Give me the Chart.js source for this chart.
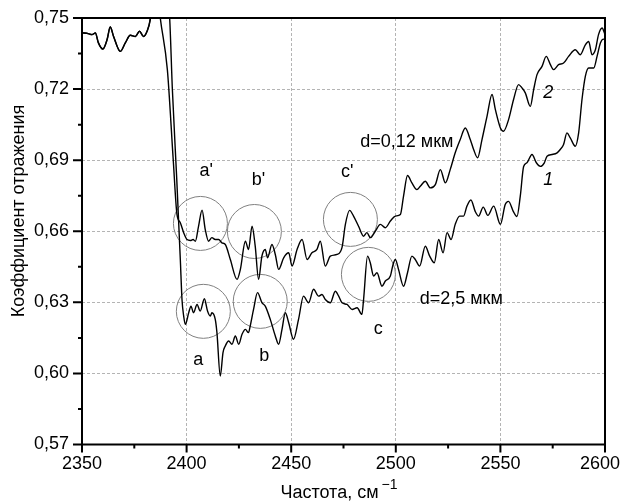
<html>
<script src="https://cdn.jsdelivr.net/npm/chart.js@4.4.0/dist/chart.umd.min.js"></script>
<body style="margin:0;background:#fff;">
<canvas id="spectrum" width="623" height="503"></canvas>

<script>
// shared start of both spectra (2350..2383 cm-1)
var freqStart = [2350.0, 2353.0, 2354.8, 2356.4, 2357.8, 2360.0, 2362.0, 2363.5, 2365.1, 2368.3, 2370.7, 2373.1, 2375.5, 2377.5, 2379.4, 2381.1, 2382.6];
var reflStart = [0.7438, 0.7434, 0.7430, 0.7437, 0.7396, 0.7369, 0.7409, 0.7462, 0.7422, 0.7359, 0.7395, 0.7427, 0.7422, 0.7444, 0.7422, 0.7444, 0.7493];

// curve 2, d = 0,12 мкм
var freq2 = [2385.0, 2387.4, 2390.8, 2393.6, 2395.4, 2397.0, 2398.6, 2400.2, 2401.8, 2403.1,
	2404.2, 2405.7, 2407.4, 2408.9, 2410.5, 2412.1, 2413.7, 2415.3, 2416.9, 2418.5,
	2420.9, 2424.1, 2425.7, 2428.1, 2429.6, 2431.3, 2432.8, 2434.4, 2436.0, 2437.6,
	2438.7, 2440.8, 2442.4, 2444.0, 2446.4, 2448.8, 2450.4, 2452.8, 2455.2, 2457.6,
	2459.9, 2462.3, 2463.9, 2466.3, 2468.7, 2471.9, 2474.3, 2475.9, 2477.9, 2479.8,
	2482.2, 2484.6, 2486.2, 2487.8, 2490.2, 2492.6, 2495.0, 2497.4, 2499.8, 2502.2,
	2503.7, 2505.6, 2507.7, 2510.1, 2511.7, 2514.1, 2516.5, 2518.9, 2521.3, 2523.7,
	2526.0, 2528.4, 2530.8, 2533.2, 2535.6, 2537.2, 2539.1, 2541.2, 2543.6, 2546.0,
	2547.6, 2550.0, 2551.5, 2553.9, 2556.3, 2558.7, 2560.3, 2561.9, 2564.3, 2565.9,
	2567.5, 2569.9, 2571.9, 2573.9, 2575.4, 2577.8, 2580.2, 2582.6, 2585.8, 2588.2,
	2590.6, 2592.2, 2593.8, 2595.4, 2596.9, 2598.6, 2600.0];
var refl2 = [0.770, 0.7501, 0.7282, 0.6903, 0.6671, 0.6636, 0.6594, 0.6565, 0.6561, 0.6565,
	0.6558, 0.6621, 0.6689, 0.6608, 0.6558, 0.6573, 0.6565, 0.6565, 0.6551, 0.6544,
	0.6481, 0.6397, 0.6439, 0.6558, 0.6523, 0.6621, 0.6537, 0.6397, 0.6495, 0.6523,
	0.6488, 0.6544, 0.6502, 0.6439, 0.6488, 0.6509, 0.6453, 0.6523, 0.6565, 0.6481,
	0.6509, 0.6523, 0.6558, 0.6453, 0.6495, 0.6502, 0.6532, 0.6629, 0.6688, 0.6664,
	0.6621, 0.6579, 0.6594, 0.6573, 0.6600, 0.6629, 0.6615, 0.6643, 0.6664, 0.6671,
	0.6748, 0.6835, 0.6804, 0.6776, 0.6790, 0.6811, 0.6783, 0.6797, 0.6860, 0.6804,
	0.6860, 0.6931, 0.6987, 0.7036, 0.6987, 0.6945, 0.6910, 0.6987, 0.7085, 0.7177,
	0.7113, 0.7036, 0.7022, 0.7071, 0.7156, 0.7219, 0.7205, 0.7184, 0.7127, 0.7198,
	0.7261, 0.7296, 0.7338, 0.7303, 0.7282, 0.7303, 0.7310, 0.7338, 0.7366, 0.7345,
	0.7387, 0.7401, 0.7345, 0.7366, 0.7430, 0.7458, 0.7430];

// curve 1, d = 2,5 мкм
var freq1 = [2387.5, 2391.9, 2393.2, 2395.3, 2397.0, 2397.8, 2398.6, 2399.4, 2401.0, 2402.1,
	2403.3, 2405.0, 2406.5, 2408.5, 2410.0, 2411.3, 2412.1, 2413.7, 2414.5, 2416.1,
	2417.4, 2418.5, 2420.1, 2421.7, 2423.3, 2424.9, 2426.5, 2428.1, 2429.6, 2430.4,
	2432.0, 2433.9, 2436.0, 2437.6, 2440.0, 2442.4, 2444.0, 2445.6, 2447.2, 2448.8,
	2451.1, 2453.5, 2455.9, 2458.3, 2460.7, 2463.1, 2464.7, 2466.3, 2468.7, 2471.1,
	2472.7, 2474.3, 2476.7, 2479.1, 2481.5, 2483.8, 2484.6, 2486.5, 2487.8, 2489.4,
	2491.0, 2493.4, 2495.0, 2497.4, 2498.7, 2499.8, 2501.3, 2503.7, 2505.6, 2507.7,
	2509.3, 2511.4, 2514.1, 2516.2, 2518.4, 2520.5, 2522.6, 2524.5, 2526.4, 2528.4,
	2530.5, 2532.4, 2534.0, 2535.9, 2538.0, 2539.6, 2541.8, 2544.0, 2546.8, 2550.0,
	2552.3, 2553.9, 2556.2, 2557.9, 2559.5, 2561.1, 2562.7, 2565.1, 2567.2, 2569.1,
	2571.0, 2572.3, 2574.7, 2577.1, 2578.6, 2580.2, 2581.8, 2583.4, 2585.8, 2587.4,
	2589.0, 2590.6, 2592.2, 2594.6, 2596.2, 2597.8, 2599.3, 2600.0];
var refl1 = [0.790, 0.7501, 0.7198, 0.6818, 0.6481, 0.6312, 0.6242, 0.6207, 0.6256, 0.6284,
	0.6256, 0.6291, 0.6263, 0.6315, 0.6263, 0.6242, 0.6256, 0.6228, 0.6172, 0.5989,
	0.6088, 0.6116, 0.6137, 0.6123, 0.6158, 0.6123, 0.6165, 0.6186, 0.6172, 0.6200,
	0.6270, 0.6341, 0.6299, 0.6284, 0.6228, 0.6158, 0.6123, 0.6186, 0.6256, 0.6214,
	0.6144, 0.6228, 0.6326, 0.6298, 0.6355, 0.6326, 0.6333, 0.6312, 0.6298, 0.6347,
	0.6326, 0.6298, 0.6291, 0.6270, 0.6277, 0.6249, 0.6312, 0.6495, 0.6467, 0.6411,
	0.6425, 0.6368, 0.6390, 0.6411, 0.6460, 0.6481, 0.6439, 0.6368, 0.6425, 0.6495,
	0.6481, 0.6453, 0.6537, 0.6495, 0.6467, 0.6565, 0.6509, 0.6594, 0.6565, 0.6629,
	0.6664, 0.6664, 0.6706, 0.6732, 0.6683, 0.6664, 0.6702, 0.6667, 0.6706, 0.6629,
	0.6713, 0.6726, 0.6683, 0.6662, 0.6748, 0.6873, 0.6889, 0.6924, 0.6889, 0.6874,
	0.6889, 0.6917, 0.6924, 0.6931, 0.6945, 0.6966, 0.7015, 0.6994, 0.6959, 0.7015,
	0.7156, 0.7254, 0.7289, 0.7289, 0.7338, 0.7395, 0.7411, 0.7408];

// circled features a', a, b', b, c', c
var circleFreq = [2406.6, 2408.0, 2432.4, 2435.2, 2478.3, 2486.9];
var circleRefl = [0.6633, 0.6262, 0.6599, 0.6304, 0.6650, 0.6418];

// text annotations inside the plot
var labelText = ["a'", "b'", "c'", "a", "b", "c", "d=0,12 мкм", "d=2,5 мкм", "2", "1"];
var labelFreq = [2409.4, 2434.3, 2476.8, 2405.6, 2437.1, 2491.6, 2505.3, 2531.3, 2572.9, 2572.9];
var labelRefl = [0.6856, 0.6818, 0.6848, 0.6055, 0.6072, 0.6186, 0.6978, 0.6312, 0.7185, 0.6818];

var xTicks = [2350, 2400, 2450, 2500, 2550, 2600];
var yTicks = [0.57, 0.60, 0.63, 0.66, 0.69, 0.72, 0.75];

function toPoints(xs, ys) {
	var pts = [];
	for (var i = 0; i < xs.length; i++) pts.push({x: xs[i], y: ys[i]});
	return pts;
}

var FONT = "'Liberation Sans', Arial, sans-serif";
Chart.defaults.font.family = FONT;

var extras = {
	id: 'extras',
	afterDraw: function(chart) {
		var ctx = chart.ctx, a = chart.chartArea;
		var xs = chart.scales.x, ys = chart.scales.y;
		ctx.save();
		// frame
		ctx.strokeStyle = '#000';
		ctx.lineWidth = 2;
		ctx.strokeRect(a.left, a.top, a.right - a.left, a.bottom - a.top);
		// major + minor ticks (outside)
		ctx.beginPath();
		for (var v = xTicks[0]; v <= xTicks[xTicks.length - 1]; v += 25) {
			var px = xs.getPixelForValue(v);
			var len = (v % 50 === 0) ? 8 : 4;
			ctx.moveTo(px, a.bottom);
			ctx.lineTo(px, a.bottom + len);
		}
		for (var i = 0; i <= 12; i++) {
			var py = ys.getPixelForValue(0.57 + i * 0.015);
			var l = (i % 2 === 0) ? 9 : 4;
			ctx.moveTo(a.left, py);
			ctx.lineTo(a.left - l, py);
		}
		ctx.stroke();

		// annotations
		ctx.fillStyle = '#000';
		ctx.textAlign = 'center';
		ctx.textBaseline = 'middle';
		for (var k = 0; k < labelText.length; k++) {
			var italic = (labelText[k] === '1' || labelText[k] === '2');
			ctx.font = (italic ? 'italic ' : '') + '18px ' + FONT;
			ctx.fillText(labelText[k], xs.getPixelForValue(labelFreq[k]), ys.getPixelForValue(labelRefl[k]));
		}

		// axis titles
		ctx.font = '18px ' + FONT;
		ctx.textAlign = 'center';
		ctx.textBaseline = 'alphabetic';
		var xt = 'Частота, см';
		var w = ctx.measureText(xt).width;
		var cx = 329.5;
		ctx.fillText(xt, cx, 498);
		ctx.font = '14px ' + FONT;
		ctx.textAlign = 'left';
		ctx.fillText('\u22121', cx + w / 2 + 3, 489);

		ctx.save();
		ctx.translate(19, 211);
		ctx.rotate(-Math.PI / 2);
		ctx.font = '18px ' + FONT;
		ctx.textAlign = 'center';
		ctx.textBaseline = 'middle';
		ctx.fillText('Коэффициент отражения', 0, 0);
		ctx.restore();

		ctx.restore();
	}
};

var chart = new Chart(document.getElementById('spectrum'), {
	type: 'scatter',
	data: {
		datasets: [
			{
				label: '2',
				data: toPoints(freqStart.concat(freq2), reflStart.concat(refl2)),
				showLine: true,
				borderColor: '#000',
				borderWidth: 1.4,
				pointRadius: 0,
				cubicInterpolationMode: 'monotone'
			},
			{
				label: '1',
				data: toPoints(freqStart.concat(freq1), reflStart.concat(refl1)),
				showLine: true,
				borderColor: '#000',
				borderWidth: 1.4,
				pointRadius: 0,
				cubicInterpolationMode: 'monotone'
			},
			{
				label: 'circles',
				data: toPoints(circleFreq, circleRefl),
				showLine: false,
				pointRadius: 27,
				pointBackgroundColor: 'rgba(0,0,0,0)',
				pointBorderColor: '#808080',
				pointBorderWidth: 1
			}
		]
	},
	options: {
		responsive: false,
		animation: false,
		devicePixelRatio: 1,
		events: [],
		layout: {padding: {top: 18, right: 18, left: 0, bottom: 0}},
		plugins: {legend: {display: false}, tooltip: {enabled: false}},
		scales: {
			x: {
				type: 'linear',
				min: 2350,
				max: 2600,
				afterFit: function(s) { s.height = 58.5; s.paddingLeft = 0; s.paddingRight = 0; },
				ticks: {
					stepSize: 50, color: '#000', font: {size: 18}, padding: 9, maxRotation: 0,
					// last label pulled a little to the left so it stays inside the page
					callback: function(v) { return v === 2600 ? '2600  ' : String(v); }
				},
				grid: {
					drawTicks: false,
					lineWidth: 1,
					color: function(c) { return (c.tick && (c.tick.value === 2350 || c.tick.value === 2600)) ? 'rgba(0,0,0,0)' : '#b4b4b4'; }
				},
				border: {display: false, dash: [3, 2]}
			},
			y: {
				min: 0.57,
				max: 0.75,
				afterFit: function(s) { s.width = 82; s.paddingTop = 0; s.paddingBottom = 0; },
				ticks: {
					stepSize: 0.03,
					color: '#000',
					font: {size: 18},
					padding: 13,
					callback: function(v) { return v.toFixed(2).replace('.', ','); }
				},
				grid: {
					drawTicks: false,
					lineWidth: 1,
					color: function(c) {
						if (!c.tick) return '#b4b4b4';
						var v = c.tick.value;
						return (Math.abs(v - 0.57) < 1e-6 || Math.abs(v - 0.75) < 1e-6) ? 'rgba(0,0,0,0)' : '#b4b4b4';
					}
				},
				border: {display: false, dash: [3, 2]}
			}
		}
	},
	plugins: [extras]
});

// the big circle markers should not push the plot area inwards
chart.getDatasetMeta(2).controller.getMaxOverflow = function() { return 0; };
chart.update();
</script>
</body>
</html>
